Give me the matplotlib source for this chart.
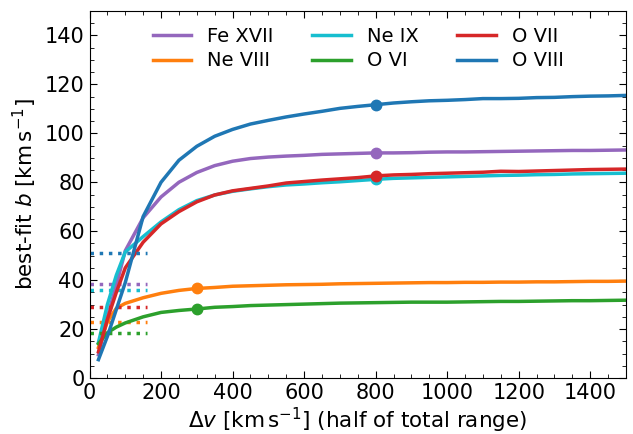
import matplotlib
matplotlib.use("Agg")
import matplotlib.pyplot as plt
from matplotlib.ticker import MultipleLocator

dv = [25, 50, 75, 100, 150, 200, 250, 300, 350, 400, 450, 500, 550, 600, 650, 700,
      750, 800, 850, 900, 950, 1000, 1050, 1100, 1150, 1200, 1250, 1300, 1350,
      1400, 1450, 1500]

b_fexvii = [9.5, 25.0, 38.0, 52.0, 65.5, 74.0, 80.0, 84.0, 86.8, 88.6, 89.7, 90.3,
            90.7, 91.0, 91.4, 91.6, 91.8, 92.0, 92.0, 92.1, 92.3, 92.4, 92.4, 92.5,
            92.6, 92.7, 92.8, 92.9, 93.0, 93.0, 93.1, 93.2]
b_neviii = [12.5, 23.0, 28.5, 30.5, 32.8, 34.6, 35.8, 36.6, 37.0, 37.5, 37.7, 37.9,
            38.1, 38.2, 38.3, 38.5, 38.6, 38.7, 38.8, 38.9, 39.0, 39.0, 39.1, 39.1,
            39.2, 39.2, 39.3, 39.3, 39.4, 39.5, 39.5, 39.6]
b_neix = [14.5, 30.0, 42.0, 51.5, 57.8, 63.8, 68.8, 72.5, 74.8, 76.3, 77.3, 78.2,
          78.9, 79.3, 79.8, 80.2, 80.7, 81.2, 81.6, 81.8, 82.0, 82.2, 82.4, 82.6,
          82.8, 82.9, 83.1, 83.2, 83.4, 83.5, 83.6, 83.7]
b_ovi = [14.0, 18.5, 20.8, 22.5, 25.0, 26.8, 27.6, 28.2, 28.9, 29.2, 29.6, 29.8,
         30.0, 30.2, 30.4, 30.6, 30.7, 30.8, 30.9, 31.0, 31.0, 31.0, 31.1, 31.2,
         31.3, 31.3, 31.4, 31.5, 31.6, 31.6, 31.7, 31.8]
b_ovii = [10.7, 24.0, 35.0, 45.0, 55.5, 63.0, 68.0, 72.0, 74.8, 76.5, 77.5, 78.5,
          79.7, 80.3, 80.9, 81.4, 81.9, 82.6, 83.0, 83.2, 83.5, 83.7, 83.9, 84.1,
          84.5, 84.4, 84.6, 84.8, 85.0, 85.2, 85.3, 85.4]
b_oviii = [7.5, 17.0, 28.0, 39.0, 66.0, 80.0, 89.0, 94.7, 98.8, 101.6, 103.8, 105.3,
           106.7, 107.9, 109.0, 110.2, 111.0, 111.7, 112.4, 112.9, 113.3, 113.5,
           113.8, 114.2, 114.2, 114.3, 114.6, 114.7, 115.0, 115.2, 115.3, 115.5]

labels = ["Fe XVII", "Ne VIII", "Ne IX", "O VI", "O VII", "O VIII"]
colors = ["#9467bd", "#ff7f0e", "#17becf", "#2ca02c", "#d62728", "#1f77b4"]
series = [b_fexvii, b_neviii, b_neix, b_ovi, b_ovii, b_oviii]
marker_dv = [800, 300, 800, 300, 800, 800]
ref_b = [38.6, 22.8, 36.0, 18.2, 29.0, 51.0]
ref_range = [0, 160]

fig = plt.figure(figsize=(6.33, 4.34), dpi=100)
ax = fig.add_axes([89.5 / 633, 1 - 378 / 434, (626 - 89.5) / 633, (378 - 11) / 434])

for lab, col, b, mx, rb in zip(labels, colors, series, marker_dv, ref_b):
    ax.plot(dv, b, color=col, lw=2.5, label=lab)
    i = dv.index(mx)
    ax.plot([mx], [b[i]], "o", color=col, ms=7.5)
    ax.plot(ref_range, [rb, rb], ":", color=col, lw=2.5)

ax.set_xlim(0, 1500)
ax.set_ylim(0, 150)
ax.xaxis.set_major_locator(MultipleLocator(200))
ax.xaxis.set_minor_locator(MultipleLocator(50))
ax.yaxis.set_major_locator(MultipleLocator(20))
ax.yaxis.set_minor_locator(MultipleLocator(5))
ax.tick_params(which="both", direction="in", top=True, right=True, labelsize=15)
ax.tick_params(which="major", length=5)
ax.tick_params(which="minor", length=3)

ax.set_xlabel(r"$\Delta v$ [km$\,$s$^{-1}$] (half of total range)", fontsize=15.5,
              labelpad=2)
ax.set_ylabel(r"best-fit $b$ [km$\,$s$^{-1}$]", fontsize=15.5, labelpad=4)

ax.legend(ncol=3, frameon=False, fontsize=14, loc="upper left",
          bbox_to_anchor=(0.085, 1.005), labelspacing=0.3, columnspacing=2.0)

fig.savefig("out.png", dpi=100)
